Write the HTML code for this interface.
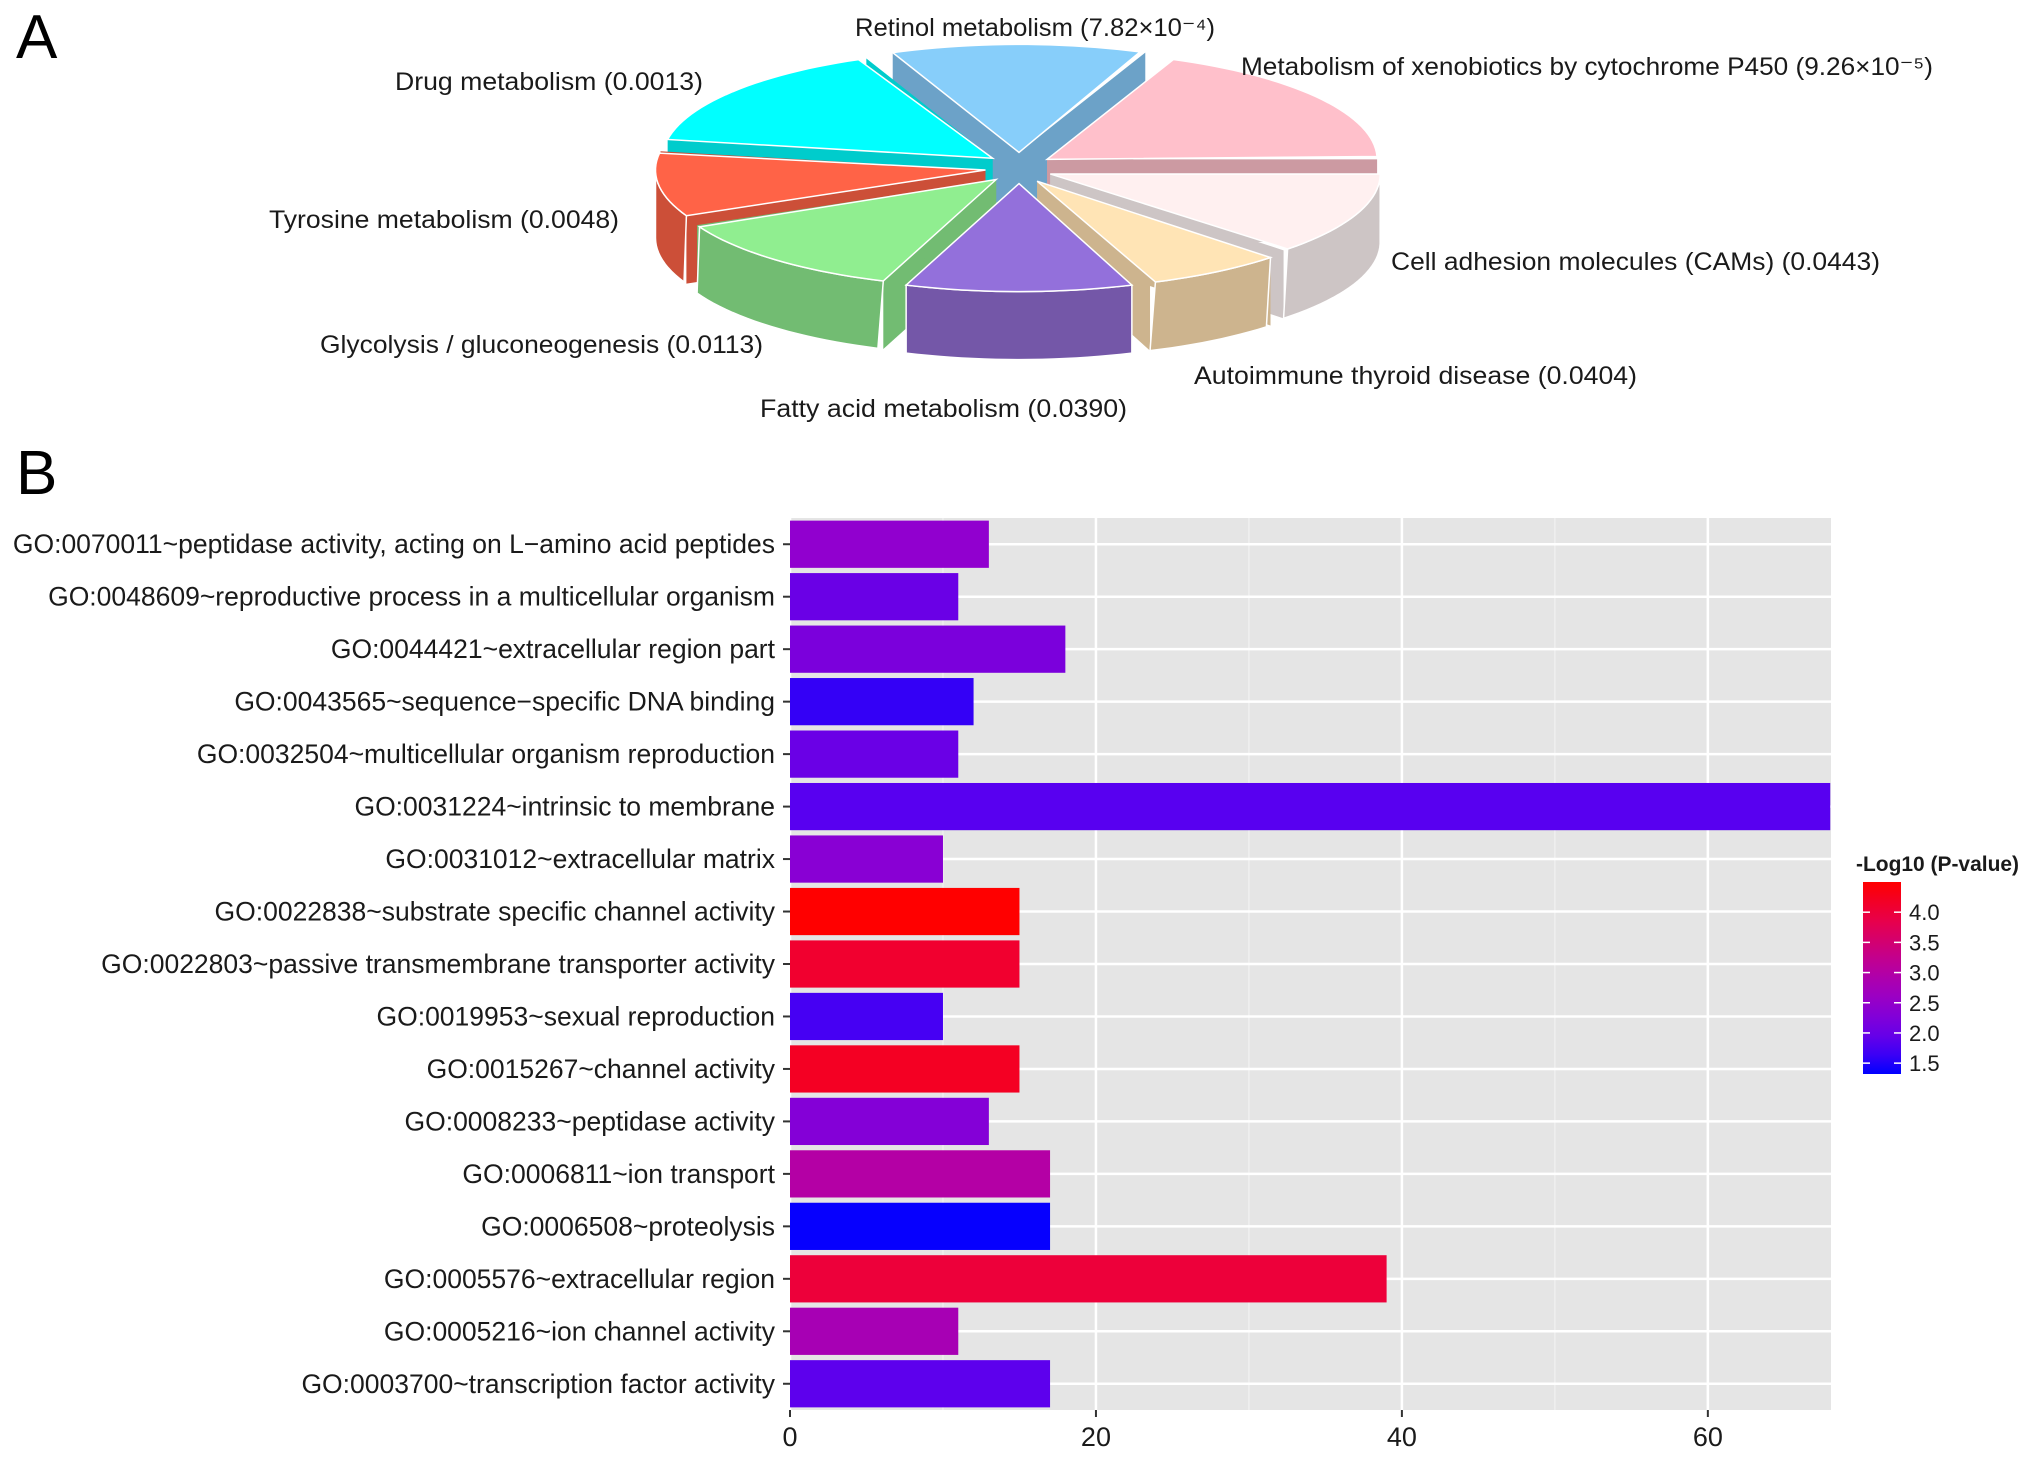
<!DOCTYPE html>
<html><head><meta charset="utf-8"><style>
html,body{margin:0;padding:0;background:#fff;}
svg{display:block;font-family:"Liberation Sans",Arial,sans-serif;}
</style></head><body>
<svg id="fig" width="2031" height="1459" viewBox="0 0 2031 1459">
<text x="16" y="58" font-size="62">A</text>
<text x="16" y="494" font-size="62">B</text>
<g id="pie"></g>
<g id="bars"></g>
</svg>
<script>
// ---------- Pie data ----------
const pieNames = ["Retinol metabolism","Metabolism of xenobiotics by cytochrome P450","Cell adhesion molecules (CAMs)","Autoimmune thyroid disease","Fatty acid metabolism","Glycolysis / gluconeogenesis","Tyrosine metabolism","Drug metabolism"];
const pieValues = ["(7.82×10⁻⁴)","(9.26×10⁻⁵)","(0.0443)","(0.0404)","(0.0390)","(0.0113)","(0.0048)","(0.0013)"];
const pieShares = [45,67.5,45,25,40,45,35,57.5];
const pieTop = ["#87CEFA","#FFC0CB","#FFF0F0","#FFE4B5","#9370DB","#90EE90","#FF6347","#00FFFF"];
const pieSide = ["#6CA2C8","#CC9AA2","#CDC5C5","#CDB48E","#7457A8","#72BC72","#CC4F38","#00CCCC"];

// ---------- Bar data ----------
const goTerms = ["GO:0070011~peptidase activity, acting on L\u2212amino acid peptides","GO:0048609~reproductive process in a multicellular organism","GO:0044421~extracellular region part","GO:0043565~sequence\u2212specific DNA binding","GO:0032504~multicellular organism reproduction","GO:0031224~intrinsic to membrane","GO:0031012~extracellular matrix","GO:0022838~substrate specific channel activity","GO:0022803~passive transmembrane transporter activity","GO:0019953~sexual reproduction","GO:0015267~channel activity","GO:0008233~peptidase activity","GO:0006811~ion transport","GO:0006508~proteolysis","GO:0005576~extracellular region","GO:0005216~ion channel activity","GO:0003700~transcription factor activity"];
const goCounts = [13,11,18,12,11,68,10,15,15,10,15,13,17,17,39,11,17];
const goLogP = [2.45,2.0,2.2,1.6,2.0,1.8,2.35,4.5,4.1,1.7,4.2,2.3,3.0,1.35,4.0,2.8,1.85];
const xTicks = [0,20,40,60];
const legendTicks = [1.5,2.0,2.5,3.0,3.5,4.0];

const NS="http://www.w3.org/2000/svg";
function mk(tag,attrs,parent){const e=document.createElementNS(NS,tag);for(const k in attrs)e.setAttribute(k,attrs[k]);parent.appendChild(e);return e;}

// ---------- Pie drawing ----------
(function(){
 const g=document.getElementById('pie');
 const cx=1019,cy=168,rx=330,ry=108,h=68,ex=26,ey=12;
 const total=pieShares.reduce((a,b)=>a+b,0);
 let start=-pieShares[0]/2*360/total;
 const slices=[];
 pieShares.forEach((s,i)=>{const a0=start,a1=start+s*360/total;start=a1;slices.push({i,a0,a1,mid:(a0+a1)/2});});
 const P=(ox,oy,a,dz)=>{const r=a*Math.PI/180;return [ox+rx*Math.sin(r),oy-ry*Math.cos(r)+(dz||0)];};
 const order=slices.slice().sort((a,b)=>Math.cos(b.mid*Math.PI/180)-Math.cos(a.mid*Math.PI/180));
 order.forEach(sl=>{
  const grp=mk('g',{},g);
  const mid=sl.mid*Math.PI/180;
  const ox=cx+ex*Math.sin(mid)*1.3, oy=cy-ey*Math.cos(mid)*1.3;
  const i=sl.i;
  [sl.a0,sl.a1].forEach(a=>{
   const p=P(ox,oy,a);
   const w=mk('path',{d:`M${ox},${oy} L${p[0]},${p[1]} L${p[0]},${p[1]+h} L${ox},${oy+h}Z`,fill:pieSide[i]},grp);
   
   
  });
  const lo=Math.max(sl.a0<0?sl.a0+360:sl.a0,90), hi=Math.min(sl.a1,270);
  if(hi>lo){
   let d='',back='';
   for(let a=lo;a<=hi+0.001;a+=2){const p=P(ox,oy,Math.min(a,hi));d+=(d?'L':'M')+p[0]+','+p[1];}
   for(let a=hi;a>=lo-0.001;a-=2){const p=P(ox,oy,Math.max(a,lo),h);back+='L'+p[0]+','+p[1];}
   const w=mk('path',{d:d+back+'Z',fill:pieSide[i],stroke:'#fff','stroke-width':1.5},grp);
   
   
  }
  let d=`M${ox},${oy}`;
  for(let a=sl.a0;a<=sl.a1+0.001;a+=2){const p=P(ox,oy,Math.min(a,sl.a1));d+='L'+p[0]+','+p[1];}
  const t=mk('path',{d:d+'Z',fill:pieTop[i],stroke:'#fff','stroke-width':1.5},grp);
  
  
 });
 const labelPos=[[855,36,360],[1241,75,692],[1391,270,489],[1194,384,443],[760,417,367],[320,353,443],[269,228,350],[395,90,308]];
 labelPos.forEach((lp,i)=>{
  const t=mk('text',{x:lp[0],y:lp[1],'font-size':25,fill:'#1a1a1a',textLength:lp[2],lengthAdjust:'spacingAndGlyphs'},g);
  t.textContent=pieNames[i]+' '+pieValues[i];
  
  
 });
})();

// ---------- Bar drawing ----------
(function(){
 const g=document.getElementById('bars');
 const L=790,R=1831,T=518,B=1410,xmax=68.05;
 const x=v=>L+v/xmax*(R-L);
 const band=(B-T)/goTerms.length;
 const y=i=>T+band*(i+0.5);
 const stops=[[0,[0,0,255]],[0.15,[88,0,240]],[0.35,[144,0,208]],[0.55,[184,0,160]],[0.8,[232,0,74]],[1,[255,0,0]]];
 const lo=1.32,hi=4.5;
 function col(v){let t=(v-lo)/(hi-lo);t=Math.max(0,Math.min(1,t));for(let k=1;k<stops.length;k++){if(t<=stops[k][0]){const a=stops[k-1],b=stops[k];const f=(t-a[0])/(b[0]-a[0]);const c=a[1].map((q,j)=>Math.round(q+(b[1][j]-q)*f));return `rgb(${c})`;}}return 'rgb(255,0,0)';}
 const bg=mk('rect',{x:L,y:T,width:R-L,height:B-T,fill:'#e5e5e5'},g);
 
 
 for(let v=10;v<xmax;v+=20){mk('line',{x1:x(v),x2:x(v),y1:T,y2:B,stroke:'#f2f2f2','stroke-width':1.2},g);}
 xTicks.forEach(v=>{const l=mk('line',{x1:x(v),x2:x(v),y1:T,y2:B,stroke:'#fff','stroke-width':2.5},g);
  
  });
 goTerms.forEach((n,i)=>{mk('line',{x1:L,x2:R,y1:y(i),y2:y(i),stroke:'#fff','stroke-width':2.5},g);});
 goTerms.forEach((n,i)=>{
  const r=mk('rect',{x:x(0),y:y(i)-band*0.45,width:x(goCounts[i])-x(0),height:band*0.9,fill:col(goLogP[i])},g);
  
  
  mk('line',{x1:L-7,x2:L,y1:y(i),y2:y(i),stroke:'#333','stroke-width':2},g);
  const t=mk('text',{x:L-15,y:y(i)+9,'font-size':26.5,'text-anchor':'end',fill:'#1a1a1a'},g);
  t.textContent=n;
  
  
 });
 xTicks.forEach(v=>{
  mk('line',{x1:x(v),x2:x(v),y1:B,y2:B+7,stroke:'#333','stroke-width':2},g);
  const t=mk('text',{x:x(v),y:B+36,'font-size':27,'text-anchor':'middle',fill:'#1a1a1a'},g);
  t.textContent=v;
  
  
 });
 const lg=mk('g',{},g);
 
 
 const tt=mk('text',{x:1856,y:871,'font-size':21,'font-weight':'bold',fill:'#1a1a1a',textLength:163,lengthAdjust:'spacingAndGlyphs'},lg);
 tt.textContent='-Log10 (P-value)';
 
 
 const CT=882,CB=1074,CL=1863,CW=38;
 const defs=mk('defs',{},lg);
 const gr=mk('linearGradient',{id:'cb',x1:0,y1:1,x2:0,y2:0},defs);
 for(let k=0;k<=10;k++){mk('stop',{offset:k/10,'stop-color':col(lo+(hi-lo)*k/10)},gr);}
 const bar=mk('rect',{x:CL,y:CT,width:CW,height:CB-CT,fill:'url(#cb)'},lg);
 
 
 const ly=v=>CB-(v-lo)/(hi-lo)*(CB-CT);
 legendTicks.forEach(v=>{
  mk('line',{x1:CL,x2:CL+7,y1:ly(v),y2:ly(v),stroke:'#fff','stroke-width':1.5},lg);
  mk('line',{x1:CL+CW-7,x2:CL+CW,y1:ly(v),y2:ly(v),stroke:'#fff','stroke-width':1.5},lg);
  const t=mk('text',{x:1909,y:ly(v)+8,'font-size':22,fill:'#1a1a1a'},lg);
  t.textContent=v.toFixed(1);
  
  
 });
})();
</script>
</body></html>
